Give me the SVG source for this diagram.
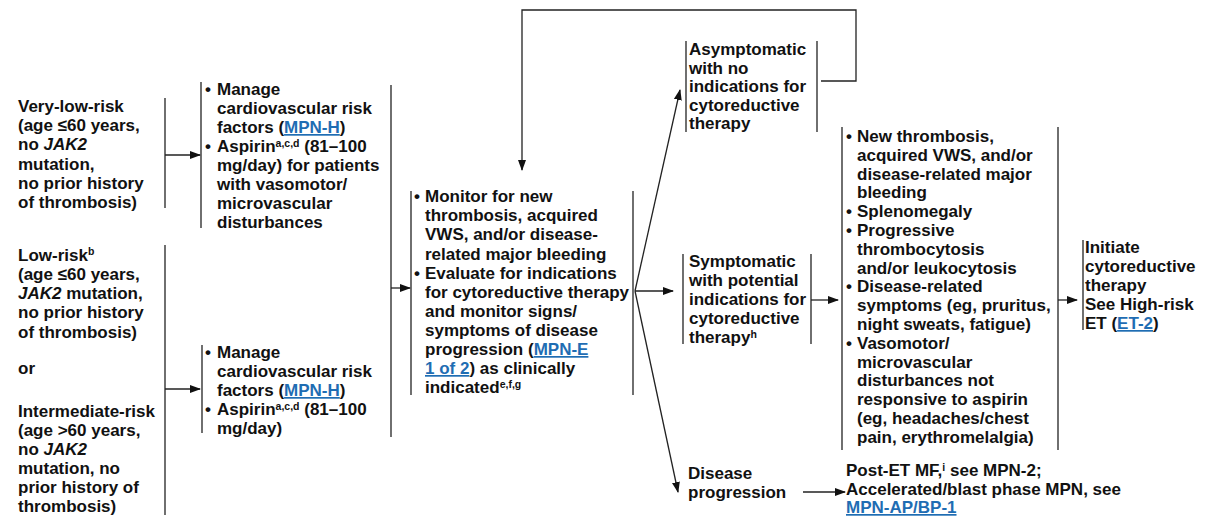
<svg xmlns="http://www.w3.org/2000/svg" width="1206" height="518" viewBox="0 0 1206 518">
<style>
  text { font-family: "Liberation Sans", Arial, Helvetica, sans-serif; font-weight: bold; font-size: 17px; fill: #111; }
  .lk { fill: #1f6db3; text-decoration: underline; }
  .sup { font-size: 10.5px; }
  .bar { stroke: #222; stroke-width: 1.3; fill: none; }
  .cn { stroke: #222; stroke-width: 1.3; fill: none; }
</style>
<defs>
  <marker id="ah" markerUnits="userSpaceOnUse" markerWidth="11" markerHeight="8" refX="10" refY="4" orient="auto">
    <path d="M0,0 L11,4 L0,8 z" fill="#111"/>
  </marker>
</defs>
<rect width="1206" height="518" fill="#fff"/>

<g id="n-verylow">
  <text x="18" y="112">Very-low-risk</text>
  <text x="18" y="131">(age ≤60 years,</text>
  <text x="18" y="150">no <tspan font-style="italic">JAK2</tspan></text>
  <text x="18" y="170">mutation,</text>
  <text x="18" y="189">no prior history</text>
  <text x="18" y="208">of thrombosis)</text>
  <line class="bar" x1="165" y1="98" x2="165" y2="208"/>
</g>

<g id="n-lowint">
  <text x="18" y="261">Low-risk<tspan class="sup" dy="-6">b</tspan></text>
  <text x="18" y="280">(age ≤60 years,</text>
  <text x="18" y="299"><tspan font-style="italic">JAK2</tspan> mutation,</text>
  <text x="18" y="318">no prior history</text>
  <text x="18" y="338">of thrombosis)</text>
  <text x="18" y="374">or</text>
  <text x="18" y="417">Intermediate-risk</text>
  <text x="18" y="436">(age &gt;60 years,</text>
  <text x="18" y="455">no <tspan font-style="italic">JAK2</tspan></text>
  <text x="18" y="474">mutation, no</text>
  <text x="18" y="493">prior history of</text>
  <text x="18" y="512">thrombosis)</text>
  <line class="bar" x1="165" y1="245" x2="165" y2="515"/>
</g>

<g id="n-manage1">
  <line class="bar" x1="201" y1="82" x2="201" y2="228"/>
  <text x="205" y="95">•</text><text x="217" y="95">Manage</text>
  <text x="217" y="114">cardiovascular risk</text>
  <text x="217" y="133">factors (<tspan class="lk">MPN-H</tspan>)</text>
  <text x="205" y="152">•</text><text x="217" y="152">Aspirin<tspan class="sup" dy="-5.5">a,c,d</tspan><tspan dy="5.5"> (81–100</tspan></text>
  <text x="217" y="171">mg/day) for patients</text>
  <text x="217" y="190">with vasomotor/</text>
  <text x="217" y="209">microvascular</text>
  <text x="217" y="228">disturbances</text>
</g>

<g id="n-manage2">
  <line class="bar" x1="202" y1="345" x2="202" y2="433"/>
  <text x="205" y="358">•</text><text x="217" y="358">Manage</text>
  <text x="217" y="377">cardiovascular risk</text>
  <text x="217" y="396">factors (<tspan class="lk">MPN-H</tspan>)</text>
  <text x="205" y="415">•</text><text x="217" y="415">Aspirin<tspan class="sup" dy="-5.5">a,c,d</tspan><tspan dy="5.5"> (81–100</tspan></text>
  <text x="217" y="434">mg/day)</text>
</g>

<g id="n-monitor">
  <line class="bar" x1="411" y1="191" x2="411" y2="395"/>
  <line class="bar" x1="633" y1="191" x2="633" y2="395"/>
  <text x="414" y="202">•</text><text x="425" y="202">Monitor for new</text>
  <text x="425" y="221">thrombosis, acquired</text>
  <text x="425" y="240">VWS, and/or disease-</text>
  <text x="425" y="260">related major bleeding</text>
  <text x="414" y="279">•</text><text x="425" y="279">Evaluate for indications</text>
  <text x="425" y="298">for cytoreductive therapy</text>
  <text x="425" y="317">and monitor signs/</text>
  <text x="425" y="336">symptoms of disease</text>
  <text x="425" y="355">progression (<tspan class="lk">MPN-E </tspan></text>
  <text x="425" y="374"><tspan class="lk">1 of 2</tspan>) as clinically</text>
  <text x="425" y="393">indicated<tspan class="sup" dy="-5.5">e,f,g</tspan></text>
</g>

<g id="n-asymptomatic">
  <line class="bar" x1="686" y1="41" x2="686" y2="132"/>
  <line class="bar" x1="817" y1="41" x2="817" y2="132"/>
  <text x="689" y="55">Asymptomatic</text>
  <text x="689" y="74">with no</text>
  <text x="689" y="92">indications for</text>
  <text x="689" y="111">cytoreductive</text>
  <text x="689" y="129">therapy</text>
</g>

<g id="n-symptomatic">
  <line class="bar" x1="683" y1="254" x2="683" y2="344"/>
  <line class="bar" x1="811" y1="254" x2="811" y2="344"/>
  <text x="689" y="267">Symptomatic</text>
  <text x="689" y="286">with potential</text>
  <text x="689" y="305">indications for</text>
  <text x="689" y="324">cytoreductive</text>
  <text x="689" y="343">therapy<tspan class="sup" dy="-5.5">h</tspan></text>
</g>

<g id="n-progression">
  <text x="688" y="479">Disease</text>
  <text x="688" y="498">progression</text>
</g>

<g id="n-criteria">
  <line class="bar" x1="842" y1="127" x2="842" y2="450"/>
  <line class="bar" x1="1058" y1="127" x2="1058" y2="450"/>
  <text x="846" y="142">•</text><text x="857" y="142">New thrombosis,</text>
  <text x="857" y="161">acquired VWS, and/or</text>
  <text x="857" y="180">disease-related major</text>
  <text x="857" y="198">bleeding</text>
  <text x="846" y="217">•</text><text x="857" y="217">Splenomegaly</text>
  <text x="846" y="236">•</text><text x="857" y="236">Progressive</text>
  <text x="857" y="255">thrombocytosis</text>
  <text x="857" y="274">and/or leukocytosis</text>
  <text x="846" y="292">•</text><text x="857" y="292">Disease-related</text>
  <text x="857" y="311">symptoms (eg, pruritus,</text>
  <text x="857" y="330">night sweats, fatigue)</text>
  <text x="846" y="349">•</text><text x="857" y="349">Vasomotor/</text>
  <text x="857" y="368">microvascular</text>
  <text x="857" y="386">disturbances not</text>
  <text x="857" y="405">responsive to aspirin</text>
  <text x="857" y="424">(eg, headaches/chest</text>
  <text x="857" y="443">pain, erythromelalgia)</text>
</g>

<g id="n-initiate">
  <line class="bar" x1="1083" y1="240" x2="1083" y2="330"/>
  <text x="1085" y="253">Initiate</text>
  <text x="1085" y="272">cytoreductive</text>
  <text x="1085" y="291">therapy</text>
  <text x="1085" y="310">See High-risk</text>
  <text x="1085" y="329">ET (<tspan class="lk">ET-2</tspan>)</text>
</g>

<g id="n-postet">
  <text x="846" y="476">Post-ET MF,<tspan class="sup" dy="-5.5">i</tspan><tspan dy="5.5"> see MPN-2;</tspan></text>
  <text x="846" y="495">Accelerated/blast phase MPN, see</text>
  <text x="846" y="513" class="lk">MPN-AP/BP-1</text>
</g>

<g id="connectors">
  <line class="cn" x1="391" y1="85" x2="391" y2="437"/>
  <line class="cn" x1="165" y1="155" x2="200" y2="155" marker-end="url(#ah)"/>
  <line class="cn" x1="165" y1="389" x2="200" y2="389" marker-end="url(#ah)"/>
  <line class="cn" x1="391" y1="288" x2="410" y2="288" marker-end="url(#ah)"/>
  <line class="cn" x1="635" y1="291" x2="673" y2="291" marker-end="url(#ah)"/>
  <line class="cn" x1="635" y1="291" x2="680" y2="90" marker-end="url(#ah)"/>
  <line class="cn" x1="635" y1="291" x2="678" y2="492" marker-end="url(#ah)"/>
  <polyline class="cn" points="821,81 856,81 856,10 522,10 522,170" marker-end="url(#ah)"/>
  <line class="cn" x1="811" y1="300" x2="838" y2="300" marker-end="url(#ah)"/>
  <line class="cn" x1="1058" y1="300" x2="1077" y2="300" marker-end="url(#ah)"/>
  <line class="cn" x1="803" y1="492" x2="845" y2="492" marker-end="url(#ah)"/>
</g>
</svg>
